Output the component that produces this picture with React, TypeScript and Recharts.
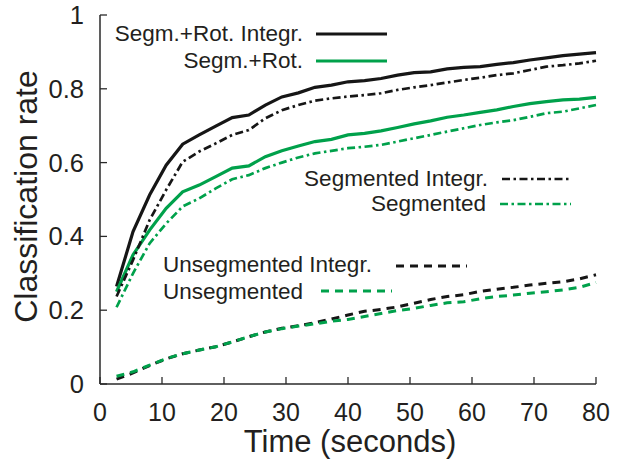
import React from 'react';
import { LineChart, Line, XAxis, YAxis } from 'recharts';

const times = [2.67, 5.33, 8, 10.67, 13.33, 16, 18.67, 21.33, 24, 26.67, 29.33, 32, 34.67, 37.33, 40, 42.67, 45.33, 48, 50.67, 53.33, 56, 58.67, 61.33, 64, 66.67, 69.33, 72, 74.67, 77.33, 80];

const segRotIntegr = [0.264, 0.413, 0.512, 0.593, 0.65, 0.675, 0.699, 0.722, 0.729, 0.756, 0.778, 0.789, 0.804, 0.81, 0.819, 0.822, 0.828, 0.837, 0.844, 0.846, 0.854, 0.858, 0.86, 0.866, 0.871, 0.878, 0.884, 0.89, 0.894, 0.898];
const segRot = [0.25, 0.35, 0.417, 0.476, 0.521, 0.539, 0.562, 0.585, 0.591, 0.616, 0.632, 0.645, 0.657, 0.663, 0.675, 0.679, 0.686, 0.695, 0.705, 0.713, 0.723, 0.729, 0.736, 0.743, 0.752, 0.76, 0.765, 0.77, 0.772, 0.777];
const segmentedIntegr = [0.237, 0.336, 0.444, 0.526, 0.602, 0.63, 0.652, 0.675, 0.688, 0.72, 0.742, 0.756, 0.768, 0.774, 0.779, 0.783, 0.788, 0.797, 0.804, 0.81, 0.817, 0.824, 0.83, 0.837, 0.842, 0.851, 0.86, 0.864, 0.869, 0.876];
const segmented = [0.208, 0.3, 0.381, 0.435, 0.481, 0.503, 0.53, 0.555, 0.566, 0.585, 0.6, 0.614, 0.625, 0.632, 0.639, 0.643, 0.648, 0.657, 0.666, 0.675, 0.684, 0.693, 0.702, 0.709, 0.715, 0.724, 0.734, 0.738, 0.747, 0.756];
const unsegmentedIntegr = [0.013, 0.03, 0.05, 0.068, 0.082, 0.092, 0.101, 0.114, 0.128, 0.141, 0.151, 0.158, 0.166, 0.176, 0.187, 0.197, 0.202, 0.209, 0.219, 0.229, 0.237, 0.242, 0.251, 0.257, 0.262, 0.268, 0.273, 0.277, 0.285, 0.296];
const unsegmented = [0.021, 0.033, 0.051, 0.069, 0.082, 0.092, 0.101, 0.114, 0.128, 0.141, 0.15, 0.157, 0.163, 0.17, 0.175, 0.183, 0.191, 0.199, 0.205, 0.213, 0.22, 0.223, 0.231, 0.237, 0.241, 0.246, 0.25, 0.255, 0.262, 0.275];

const xTicks = [0, 10, 20, 30, 40, 50, 60, 70, 80];
const yTicks = [0, 0.2, 0.4, 0.6, 0.8, 1];
const xTitle = 'Time (seconds)';
const yTitle = 'Classification rate';

const GREEN = '#00a14b';
const BLACK = '#161616';
const FRAME = '#2a2a2a';
const FONT = '"Liberation Sans", Arial, Helvetica, sans-serif';
const TEXT = '#231f20';

const DASHDOT = '8 3.5 2.5 3.5';
const DASHED = '8 6';

const series = [
  { key: 'segRotIntegr', name: 'Segm.+Rot. Integr.', values: segRotIntegr, color: BLACK, dash: undefined as string | undefined, width: 3.2 },
  { key: 'segRot', name: 'Segm.+Rot.', values: segRot, color: GREEN, dash: undefined as string | undefined, width: 3.2 },
  { key: 'segmentedIntegr', name: 'Segmented Integr.', values: segmentedIntegr, color: BLACK, dash: DASHDOT, width: 2.7 },
  { key: 'segmented', name: 'Segmented', values: segmented, color: GREEN, dash: DASHDOT, width: 2.7 },
  { key: 'unsegmentedIntegr', name: 'Unsegmented Integr.', values: unsegmentedIntegr, color: BLACK, dash: DASHED, width: 3 },
  { key: 'unsegmented', name: 'Unsegmented', values: unsegmented, color: GREEN, dash: DASHED, width: 3 },
];

const data = times.map((t, i) => {
  const row: Record<string, number> = { t };
  series.forEach((s) => {
    row[s.key] = s.values[i];
  });
  return row;
});

// legend placement (style only)
const legendLayout = [
  { anchor: 'end', tx: 303, ty: 41, lx1: 316, lx2: 387, ly: 34 },
  { anchor: 'end', tx: 303, ty: 68, lx1: 316, lx2: 387, ly: 61 },
  { anchor: 'end', tx: 488, ty: 186, lx1: 502, lx2: 572, ly: 179 },
  { anchor: 'end', tx: 486, ty: 211, lx1: 500, lx2: 571, ly: 204 },
  { anchor: 'start', tx: 163, ty: 272, lx1: 396, lx2: 467, ly: 266 },
  { anchor: 'start', tx: 163, ty: 299, lx1: 321, lx2: 392, ly: 291 },
];

const TICK_LEN = 7;
const MARGIN_X = 16;
const MARGIN_Y = 16;

const BottomTick = (props: any) => {
  const { x, y, payload } = props;
  const axisY = y - MARGIN_X;
  return (
    <g>
      <line x1={x} x2={x} y1={axisY} y2={axisY - TICK_LEN} stroke={FRAME} strokeWidth={1.3} />
      <text x={x} y={axisY + 37} textAnchor="middle" fontSize={25} fontFamily={FONT} fill={TEXT}>
        {payload.value}
      </text>
    </g>
  );
};

const TopTick = (props: any) => {
  const { x, y } = props;
  return <line x1={x} x2={x} y1={y} y2={y + TICK_LEN} stroke={FRAME} strokeWidth={1.3} />;
};

const LeftTick = (props: any) => {
  const { x, y, payload } = props;
  const axisX = x + MARGIN_Y;
  return (
    <g>
      <line x1={axisX} x2={axisX + TICK_LEN} y1={y} y2={y} stroke={FRAME} strokeWidth={1.3} />
      <text x={x} y={y + 9} textAnchor="end" fontSize={25.5} fontFamily={FONT} fill={TEXT}>
        {payload.value}
      </text>
    </g>
  );
};

const RightTick = (props: any) => {
  const { x, y } = props;
  return <line x1={x} x2={x - TICK_LEN} y1={y} y2={y} stroke={FRAME} strokeWidth={1.3} />;
};

const XTitle = (props: any) => {
  const vb = props.viewBox || { x: 100, y: 384, width: 496, height: 81 };
  return (
    <text x={vb.x + vb.width / 2 + 2} y={vb.y + 68} textAnchor="middle" fontSize={31} fontFamily={FONT} fill={TEXT}>
      {xTitle}
    </text>
  );
};

const YTitle = (props: any) => {
  const vb = props.viewBox || { x: 0, y: 15, width: 100, height: 369 };
  const cx = vb.x + 37;
  const cy = vb.y + vb.height / 2 - 3;
  return (
    <text x={cx} y={cy} transform={`rotate(-90 ${cx} ${cy})`} textAnchor="middle" fontSize={32} fontFamily={FONT} fill={TEXT}>
      {yTitle}
    </text>
  );
};

export default function App() {
  return (
    <div style={{ position: 'absolute', left: 0, top: 0, width: 617, height: 465, background: '#fff' }}>
      <LineChart width={617} height={465} data={data} margin={{ top: 15, right: 21, bottom: 0, left: 0 }}>
        <XAxis
          dataKey="t"
          type="number"
          domain={[0, 80]}
          ticks={xTicks}
          height={81}
          tickSize={0}
          tickMargin={MARGIN_X}
          axisLine={{ stroke: FRAME, strokeWidth: 1.5 }}
          tick={<BottomTick />}
          interval={0}
          label={{ content: XTitle }}
        />
        <XAxis
          xAxisId="top"
          orientation="top"
          type="number"
          domain={[0, 80]}
          ticks={xTicks}
          height={0}
          tickSize={0}
          tickMargin={0}
          axisLine={{ stroke: FRAME, strokeWidth: 1.5 }}
          tick={<TopTick />}
          interval={0}
        />
        <YAxis
          type="number"
          domain={[0, 1]}
          ticks={yTicks}
          width={100}
          tickSize={0}
          tickMargin={MARGIN_Y}
          axisLine={{ stroke: FRAME, strokeWidth: 1.5 }}
          tick={<LeftTick />}
          interval={0}
          label={{ content: YTitle }}
        />
        <YAxis
          yAxisId="right"
          orientation="right"
          type="number"
          domain={[0, 1]}
          ticks={yTicks}
          width={0}
          tickSize={0}
          tickMargin={0}
          axisLine={{ stroke: FRAME, strokeWidth: 1.5 }}
          tick={<RightTick />}
          interval={0}
        />
        {series.map((s) => (
          <Line
            key={s.key}
            dataKey={s.key}
            name={s.name}
            type="linear"
            stroke={s.color}
            strokeWidth={s.width}
            strokeDasharray={s.dash}
            dot={false}
            activeDot={false}
            isAnimationActive={false}
          />
        ))}
      </LineChart>
      <svg width={617} height={465} style={{ position: 'absolute', left: 0, top: 0, pointerEvents: 'none' }}>
        {series.map((s, i) => {
          const L = legendLayout[i];
          return (
            <g key={s.key}>
              <text x={L.tx} y={L.ty} textAnchor={L.anchor as any} fontSize={22.5} fontFamily={FONT} fill={TEXT}>
                {s.name}
              </text>
              <line x1={L.lx1} x2={L.lx2} y1={L.ly} y2={L.ly} stroke={s.color} strokeWidth={s.width} strokeDasharray={s.dash} />
            </g>
          );
        })}
      </svg>
    </div>
  );
}
